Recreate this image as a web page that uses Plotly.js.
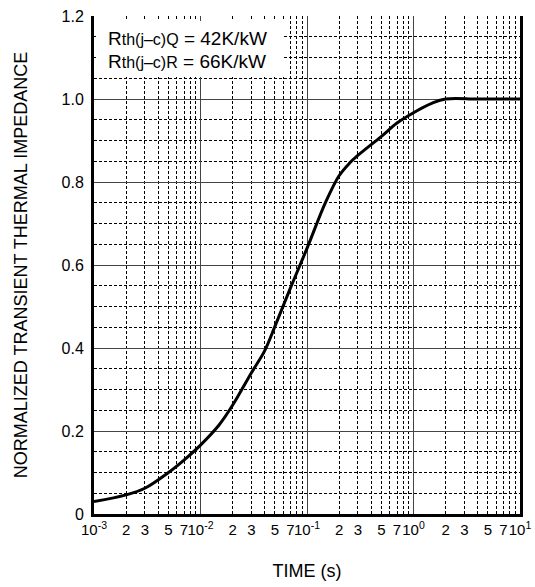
<!DOCTYPE html>
<html>
<head>
<meta charset="utf-8">
<script src="https://cdn.plot.ly/plotly-3.0.1.min.js"></script>
<style>html,body{margin:0;padding:0;background:#fff;}#chart{width:535px;height:587px;}</style>
</head>
<body>
<div id="chart"></div>
<script>
// Data
const timeS = [0.001, 0.002, 0.003, 0.005, 0.007, 0.01, 0.015, 0.02, 0.03, 0.04, 0.05, 0.07, 0.1, 0.15, 0.2, 0.25, 0.3, 0.5, 0.7, 1.0, 1.5, 2.0, 4.0, 10.0];
const impedance = [0.030, 0.046, 0.062, 0.100, 0.130, 0.166, 0.215, 0.262, 0.340, 0.393, 0.452, 0.545, 0.640, 0.752, 0.815, 0.845, 0.864, 0.910, 0.942, 0.967, 0.990, 1.0, 1.0, 1.0];

// Axis tick labels
const xLabelVals = [0.001, 0.002, 0.003, 0.005, 0.007, 0.01, 0.02, 0.03, 0.05, 0.07, 0.1, 0.2, 0.3, 0.5, 0.7, 1, 2, 3, 5, 7, 10];
const xLabelText = ["10<sup>-3</sup>", "2", "3", "5", "7", "10<sup>-2</sup>", "2", "3", "5", "7", "10<sup>-1</sup>", "2", "3", "5", "7", "10<sup>0</sup>", "2", "3", "5", "7", "10<sup>1</sup>"];
const yLabelVals = [0, 0.2, 0.4, 0.6, 0.8, 1.0, 1.2];
const yLabelText = ["0", "0.2", "0.4", "0.6", "0.8", "1.0", "1.2"];
const decades = [0.001, 0.01, 0.1, 1, 10];
const noteLines = [
  "R<span style='font-size:16px'>th(j–c)Q</span> = 42K/kW",
  "R<span style='font-size:16px'>th(j–c)R</span> = 66K/kW"
];

// minor grid positions (2..9 within each decade, every 0.05)
const xMinor = [];
for (let d = 0; d < decades.length - 1; d++) {
  for (let k = 2; k <= 9; k++) xMinor.push(+(decades[d] * k).toPrecision(3));
}
const yMinor = [];
for (let i = 1; i < 24; i++) { if (i % 4 !== 0) yMinor.push(+(i * 0.05).toFixed(2)); }

const FONT = "Liberation Sans, Arial, Helvetica, sans-serif";
const dashed = "3px,2px";

const traces = [
  {
    x: timeS, y: impedance, type: "scatter", mode: "lines",
    line: {color: "#000", width: 3, shape: "spline", smoothing: 1},
    xaxis: "x", yaxis: "y", hoverinfo: "skip", showlegend: false
  },
  {
    x: [timeS[0]], y: [impedance[0]], type: "scatter", mode: "markers",
    marker: {opacity: 0, size: 1}, xaxis: "x2", yaxis: "y",
    hoverinfo: "skip", showlegend: false
  }
];

const layout = {
  width: 535, height: 587,
  margin: {l: 94, r: 15, t: 16, b: 73},
  paper_bgcolor: "#fff", plot_bgcolor: "#fff",
  font: {family: FONT, size: 16, color: "#000"},
  showlegend: false,
  xaxis: {
    type: "log", range: [-3, 1],
    tickmode: "array", tickvals: xLabelVals, ticktext: xLabelText,
    tickangle: 0,
    ticks: "", showgrid: false, zeroline: false,
    showline: true, linecolor: "#000", linewidth: 3,
    tickfont: {size: 15, family: FONT, color: "#000"},
    ticklabelstandoff: 0,
    title: {text: "TIME (s)", font: {size: 18, family: FONT, color: "#000"}, standoff: 28},
    automargin: false
  },
  xaxis2: {
    type: "log", range: [-3, 1], overlaying: "x", anchor: "y", side: "bottom",
    tickmode: "array", tickvals: decades, showticklabels: false, ticks: "",
    showgrid: true, gridcolor: "#444", gridwidth: 1,
    minor: {tickmode: "array", tickvals: xMinor, showgrid: true, gridcolor: "#000", gridwidth: 1, griddash: dashed, ticks: ""},
    showline: false, zeroline: false, automargin: false
  },
  yaxis: {
    range: [0, 1.2],
    tickmode: "array", tickvals: yLabelVals, ticktext: yLabelText,
    ticks: "", showgrid: true, gridcolor: "#444", gridwidth: 1,
    minor: {tickmode: "array", tickvals: yMinor, showgrid: true, gridcolor: "#000", gridwidth: 1, griddash: dashed, ticks: ""},
    zeroline: false,
    showline: true, mirror: true, linecolor: "#000", linewidth: 3,
    tickfont: {size: 16, family: FONT, color: "#000"},
    ticklabelstandoff: 4,
    title: {text: "NORMALIZED TRANSIENT THERMAL IMPEDANCE", font: {size: 18, family: FONT, color: "#000"}, standoff: 30},
    automargin: false
  },
  annotations: [
    {
      xref: "paper", yref: "paper", x: 0.005, y: 0.99, xanchor: "left", yanchor: "top",
      text: " ", showarrow: false, bgcolor: "#fff", width: 188, height: 56,
      borderpad: 0, borderwidth: 0
    },
    {
      xref: "paper", yref: "paper", x: (106 - 94) / 426, y: (514 - 38) / 498,
      xanchor: "left", yanchor: "middle", showarrow: false, align: "left",
      text: noteLines[0], font: {size: 19, family: FONT, color: "#000"}
    },
    {
      xref: "paper", yref: "paper", x: (106 - 94) / 426, y: (514 - 61) / 498,
      xanchor: "left", yanchor: "middle", showarrow: false, align: "left",
      text: noteLines[1], font: {size: 19, family: FONT, color: "#000"}
    }
  ]
};

Plotly.newPlot("chart", traces, layout, {staticPlot: true, displayModeBar: false});
</script>
</body>
</html>
